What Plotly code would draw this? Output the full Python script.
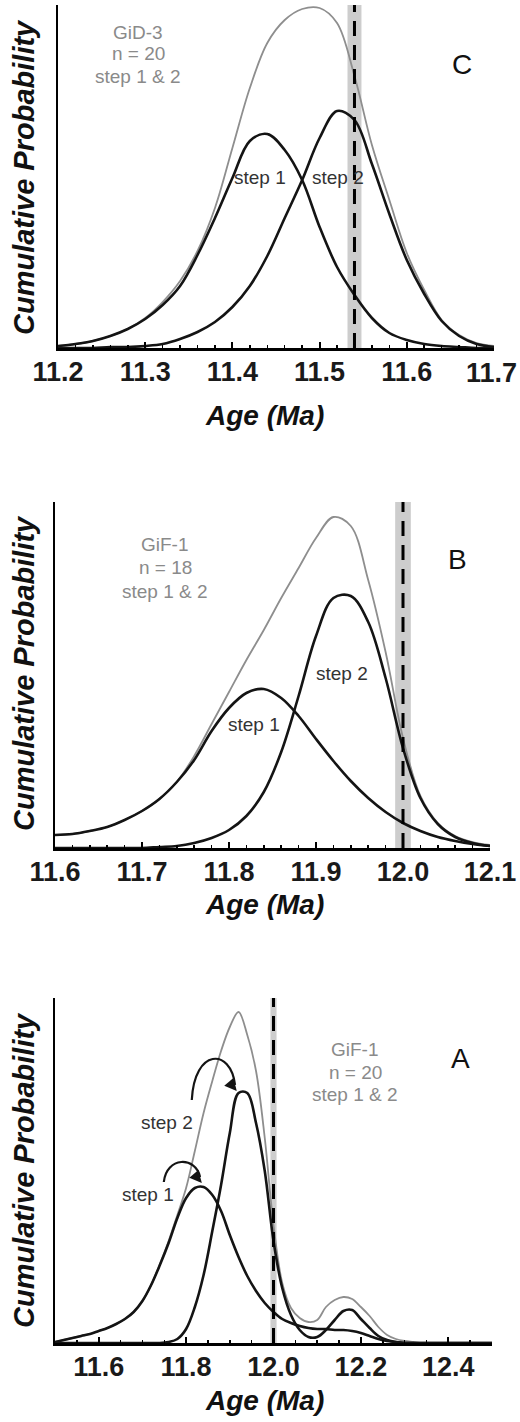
import plotly.graph_objects as go

W, H = 520, 1422
FONT = "Liberation Sans, Arial, Helvetica, sans-serif"

# ---------------- data (relative probability, arbitrary units) ----------------
# Panel C : GiD-3
C_age = [11.20, 11.22, 11.24, 11.26, 11.28, 11.30, 11.32, 11.34, 11.36, 11.38,
         11.40, 11.42, 11.44, 11.46, 11.48, 11.50, 11.52, 11.54, 11.56, 11.58,
         11.60, 11.62, 11.64, 11.66, 11.68, 11.70]
C_step1 = [2, 4, 7, 12, 19, 29, 43, 62, 93, 130, 170, 207, 214, 198, 168, 121, 81, 53, 30, 15,
           8, 4, 2, 1, 0, 0]
C_step2 = [0, 0, 0, 1, 1, 2, 4, 9, 16, 26, 41, 62, 92, 130, 168, 210, 237, 228, 184, 134,
           88, 54, 27, 12, 4, 1]
C_total = [2, 4, 7, 12, 19, 30, 46, 67, 97, 140, 200, 260, 305, 328, 339, 340, 325, 272, 203, 148,
           95, 58, 28, 13, 5, 2]
C_ref_age = 11.54
C_ref_err = 0.008
C_ticks = [11.2, 11.3, 11.4, 11.5, 11.6, 11.7]
C_ticklabels = ["11.2", "11.3", "11.4", "11.5", "11.6", "11.7"]

# Panel B : GiF-1 (n = 18)
B_age = [11.60, 11.62, 11.64, 11.66, 11.68, 11.70, 11.72, 11.74, 11.76, 11.78,
         11.80, 11.82, 11.84, 11.86, 11.88, 11.90, 11.92, 11.94, 11.96, 11.98,
         12.00, 12.02, 12.04, 12.06, 12.08, 12.10]
B_step1 = [13, 14, 17, 21, 28, 37, 49, 66, 88, 117, 140, 155, 159, 150, 132, 109, 87, 67, 50, 36,
           25, 17, 11, 7, 4, 2]
B_step2 = [0, 0, 0, 0, 0, 0, 1, 2, 5, 10, 18, 32, 56, 96, 152, 212, 250, 252, 226, 170,
           100, 50, 24, 11, 5, 2]
B_total = [13, 14, 17, 21, 28, 37, 49, 66, 92, 124, 156, 188, 218, 250, 280, 310, 331, 322, 268, 196,
           110, 52, 25, 12, 6, 3]
B_ref_age = 12.00
B_ref_err = 0.009
B_ticks = [11.6, 11.7, 11.8, 11.9, 12.0, 12.1]
B_ticklabels = ["11.6", "11.7", "11.8", "11.9", "12.0", "12.1"]

# Panel A : GiF-1 (n = 20)
A_age = [11.50, 11.52, 11.54, 11.56, 11.58, 11.60, 11.62, 11.64, 11.66, 11.68,
         11.70, 11.72, 11.74, 11.76, 11.78, 11.80, 11.82, 11.84, 11.86, 11.88,
         11.90, 11.92, 11.94, 11.96, 11.98, 12.00, 12.02, 12.04, 12.06, 12.08,
         12.10, 12.12, 12.14, 12.16, 12.18, 12.20, 12.22, 12.24, 12.26, 12.28,
         12.30, 12.32, 12.34, 12.36, 12.38, 12.40, 12.42, 12.44, 12.46, 12.48, 12.50]
A_step1 = [1, 3, 5, 7, 9, 12, 15, 19, 24, 31,
           42, 58, 78, 100, 125, 145, 155, 156, 148, 132,
           108, 86, 67, 52, 40, 31, 24, 20, 17, 15,
           14, 14, 13, 13, 12, 10, 7, 4, 2, 1,
           0, 0, 0, 0, 0, 0, 0, 0, 0, 0, 0]
A_step2 = [0, 0, 0, 0, 0, 0, 0, 0, 0, 0,
           0, 0, 0, 1, 4, 14, 36, 68, 112, 158,
           210, 250, 250, 220, 172, 102, 55, 28, 13, 6,
           6, 13, 23, 32, 33, 24, 15, 7, 3, 1,
           0, 0, 0, 0, 0, 0, 0, 0, 0, 0, 0]
A_total = [1, 3, 5, 7, 9, 12, 15, 19, 24, 31,
           42, 58, 79, 102, 128, 155, 192, 230, 262, 292,
           316, 331, 308, 272, 205, 118, 60, 35, 25, 21,
           23, 36, 43, 46, 44, 36, 27, 16, 8, 4,
           2, 1, 0, 0, 0, 0, 0, 0, 0, 0, 0]
A_ref_age = 12.00
A_ref_err = 0.007
A_ticks = [11.6, 11.8, 12.0, 12.2, 12.4]
A_ticklabels = ["11.6", "11.8", "12.0", "12.2", "12.4"]

# curved arrows in panel A: (start age, start prob), (top age, top prob), (end age, end prob)
A_arrow_step1 = [(11.749, 161), (11.786, 181), (11.832, 166)]
A_arrow_step2 = [(11.813, 243), (11.866, 284), (11.912, 258)]

# ---------------- layout helpers ----------------
def fx(p):
    return p / W


def fy(p):
    return 1 - p / H


panels = [
    dict(n="", age=C_age, s1=C_step1, s2=C_step2, tot=C_total, ref=C_ref_age, err=C_ref_err,
         xr=[11.2, 11.7], ticks=C_ticks, labels=C_ticklabels, tick0=11.2, mdt=0.02,
         box=(58, 494, 5, 348), ytop=343, edge_label=True),
    dict(n="2", age=B_age, s1=B_step1, s2=B_step2, tot=B_total, ref=B_ref_age, err=B_ref_err,
         xr=[11.6, 12.1], ticks=B_ticks, labels=B_ticklabels, tick0=11.6, mdt=0.02,
         box=(55, 490, 502, 848), ytop=346, edge_label=False),
    dict(n="3", age=A_age, s1=A_step1, s2=A_step2, tot=A_total, ref=A_ref_age, err=A_ref_err,
         xr=[11.5, 12.5], ticks=A_ticks, labels=A_ticklabels, tick0=11.5, mdt=0.05,
         box=(55, 492, 998, 1343), ytop=345, edge_label=False),
]

TICKFONT = dict(family=FONT, size=27, color="#1a1a1a", weight="bold")

fig = go.Figure()
layout = dict(width=W, height=H, margin=dict(l=0, r=0, t=0, b=0), autosize=False,
              paper_bgcolor="white", plot_bgcolor="white", showlegend=False)
shapes = []
annotations = []

for p in panels:
    xa = "x" + p["n"]
    ya = "y" + p["n"]
    x0, x1, y0, y1 = p["box"]
    labels = list(p["labels"])
    if p["edge_label"]:
        # last label sits on the right page edge: drawn as an annotation pulled inside
        annotations.append(dict(text=labels[-1], x=fx(519), y=fy(y1 + 25), xref="paper",
                                yref="paper", showarrow=False, xanchor="right",
                                yanchor="middle", font=TICKFONT))
        labels[-1] = ""
    layout["xaxis" + p["n"]] = dict(
        domain=[fx(x0), fx(x1)], anchor=ya, range=p["xr"], showgrid=False, zeroline=False,
        showline=True, linecolor="black", linewidth=2.5,
        ticks="inside", ticklen=6, tickwidth=2, tickcolor="black",
        tickmode="array", tickvals=p["ticks"], ticktext=labels,
        tickfont=TICKFONT, ticklabelstandoff=-2, automargin=False,
        minor=dict(ticks="inside", ticklen=3, tickwidth=1.5, tickcolor="black",
                   dtick=p["mdt"], tick0=p["tick0"], showgrid=False),
    )
    layout["yaxis" + p["n"]] = dict(
        domain=[fy(y1), fy(y0)], anchor=xa, range=[0, p["ytop"]], showgrid=False,
        zeroline=False, showline=True, linecolor="black", linewidth=2.5,
        ticks="", showticklabels=False, automargin=False,
    )
    # reference age band + dashed line
    shapes.append(dict(type="rect", xref=xa, yref=ya + " domain", x0=p["ref"] - p["err"],
                       x1=p["ref"] + p["err"], y0=0, y1=1, fillcolor="#cdcdcd",
                       line=dict(width=0), layer="below"))
    shapes.append(dict(type="line", xref=xa, yref=ya + " domain", x0=p["ref"], x1=p["ref"],
                       y0=0, y1=1, line=dict(color="black", width=3, dash="15px,9px"),
                       layer="above"))
    fig.add_trace(go.Scatter(x=p["age"], y=p["tot"], xaxis=xa, yaxis=ya, mode="lines",
                             line=dict(color="#8e8e8e", width=1.8, shape="spline", smoothing=1),
                             hoverinfo="skip"))
    for s in (p["s1"], p["s2"]):
        fig.add_trace(go.Scatter(x=p["age"], y=s, xaxis=xa, yaxis=ya, mode="lines",
                                 line=dict(color="#141414", width=2.6, shape="spline", smoothing=1),
                                 hoverinfo="skip"))

# curved arrows in panel A
for arr in (A_arrow_step1, A_arrow_step2):
    (sx, sy), (tx, ty), (ex, ey) = arr
    cy = (ty - 0.125 * (sy + ey)) / 0.75
    path = f"M {sx},{sy} C {sx + 0.006},{cy} {ex - 0.01},{cy} {ex},{ey}"
    shapes.append(dict(type="path", xref="x3", yref="y3", path=path,
                       line=dict(color="#141414", width=2.2)))
    annotations.append(dict(x=ex + 0.004, y=ey - 6, xref="x3", yref="y3", ax=-7, ay=-8,
                            showarrow=True, arrowhead=2, arrowsize=1.1, arrowwidth=2.2,
                            arrowcolor="#141414", text=""))


def txt(t, x, y, size=19, color="#8a8a8a", **kw):
    annotations.append(dict(text=t, x=fx(x), y=fy(y), xref="paper", yref="paper",
                            showarrow=False, xanchor="center", yanchor="middle",
                            font=dict(family=FONT, size=size, color=color, **kw)))


# sample blocks
for (lines, cx, ys) in [
    (["GiD-3", "n = 20", "step 1 & 2"], 138, [32, 54, 76]),
    (["GiF-1", "n = 18", "step 1 & 2"], 165, [545, 568, 592]),
    (["GiF-1", "n = 20", "step 1 & 2"], 355, [1049, 1072, 1094]),
]:
    for t, yy in zip(lines, ys):
        txt(t, cx, yy)

# panel letters
txt("C", 462, 65, size=28, color="#111111")
txt("B", 457, 560, size=28, color="#111111")
txt("A", 460, 1058, size=28, color="#111111")

# step labels
for t, x, y in [("step 1", 260, 178), ("step 2", 338, 178),
                ("step 1", 254, 725), ("step 2", 342, 673),
                ("step 2", 167, 1122), ("step 1", 148, 1194)]:
    txt(t, x, y, size=19, color="#333333")

# axis titles
for yc in (177, 673, 1170):
    annotations.append(dict(text="Cumulative Probability", x=fx(24), y=fy(yc), xref="paper",
                            yref="paper", showarrow=False, textangle=-90,
                            xanchor="center", yanchor="middle",
                            font=dict(family=FONT, size=29, color="#111111", weight="bold",
                                      style="italic")))
for yc in (415, 904, 1400):
    annotations.append(dict(text="Age (Ma)", x=fx(264), y=fy(yc), xref="paper", yref="paper",
                            showarrow=False, xanchor="center", yanchor="middle",
                            font=dict(family=FONT, size=28, color="#111111", weight="bold",
                                      style="italic")))

layout["shapes"] = shapes
layout["annotations"] = annotations
fig.update_layout(**layout)
fig.write_html(
    "out.html",
    config={"displayModeBar": False, "staticPlot": True},
    post_script="document.body.style.margin='0';document.documentElement.style.overflow='hidden';",
)
